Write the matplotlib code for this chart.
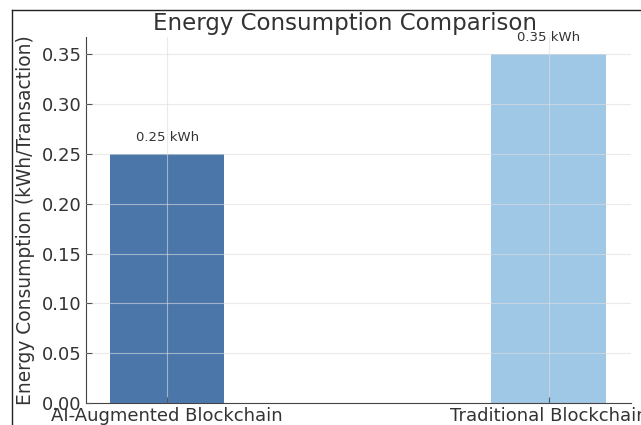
import matplotlib.pyplot as plt
from matplotlib.lines import Line2D

categories = ['AI-Augmented Blockchain', 'Traditional Blockchain']
energy = [0.25, 0.35]
bar_labels = ['0.25 kWh', '0.35 kWh']
bar_colors = ['#4a76a9', '#9fc8e7']
yticks = [0.00, 0.05, 0.10, 0.15, 0.20, 0.25, 0.30, 0.35]


def main():
    fig = plt.figure(figsize=(6.41, 4.25), dpi=100)
    ax = fig.add_axes([0.134, 0.052, 0.850, 0.861])

    x = list(range(len(categories)))
    ax.bar(x, energy, width=0.3, color=bar_colors, zorder=1)
    for xi, val, lab in zip(x, energy, bar_labels):
        ax.text(xi, val + 0.01, lab, ha='center', va='bottom', fontsize=9.5, color='#333333')

    ax.set_xlim(-0.213, 1.215)
    ax.set_ylim(0, 0.3675)
    ax.set_xticks(x)
    ax.set_xticklabels(categories, fontsize=13, color='#333333')
    ax.set_yticks(yticks)
    ax.set_yticklabels([f'{t:.2f}' for t in yticks], fontsize=13, color='#333333')
    ax.tick_params(direction='in', length=4, pad=3, colors='#555555', labelcolor='#333333')
    ax.set_ylabel('Energy Consumption (kWh/Transaction)', fontsize=13.4, color='#333333')
    ax.yaxis.set_label_coords(-0.094, 0.5)

    ax.grid(True, color='#dddddd', linewidth=0.8, alpha=0.6, zorder=2)
    ax.set_axisbelow(False)
    for side in ['top', 'right']:
        ax.spines[side].set_visible(False)
    for side in ['left', 'bottom']:
        ax.spines[side].set_color('#444444')

    fig.text(345 / 641, 1 - 30 / 425, 'Energy Consumption Comparison', ha='center', va='baseline',
             fontsize=16.5, color='#333333')

    # frame lines from the screenshot
    fig.add_artist(Line2D([12 / 641, 1], [1 - 10 / 425, 1 - 10 / 425], color='#222222', lw=1))
    fig.add_artist(Line2D([12 / 641, 12 / 641], [0, 1 - 10 / 425], color='#222222', lw=1))

    fig.savefig('out.png', dpi=100)


if __name__ == "__main__":
    main()
